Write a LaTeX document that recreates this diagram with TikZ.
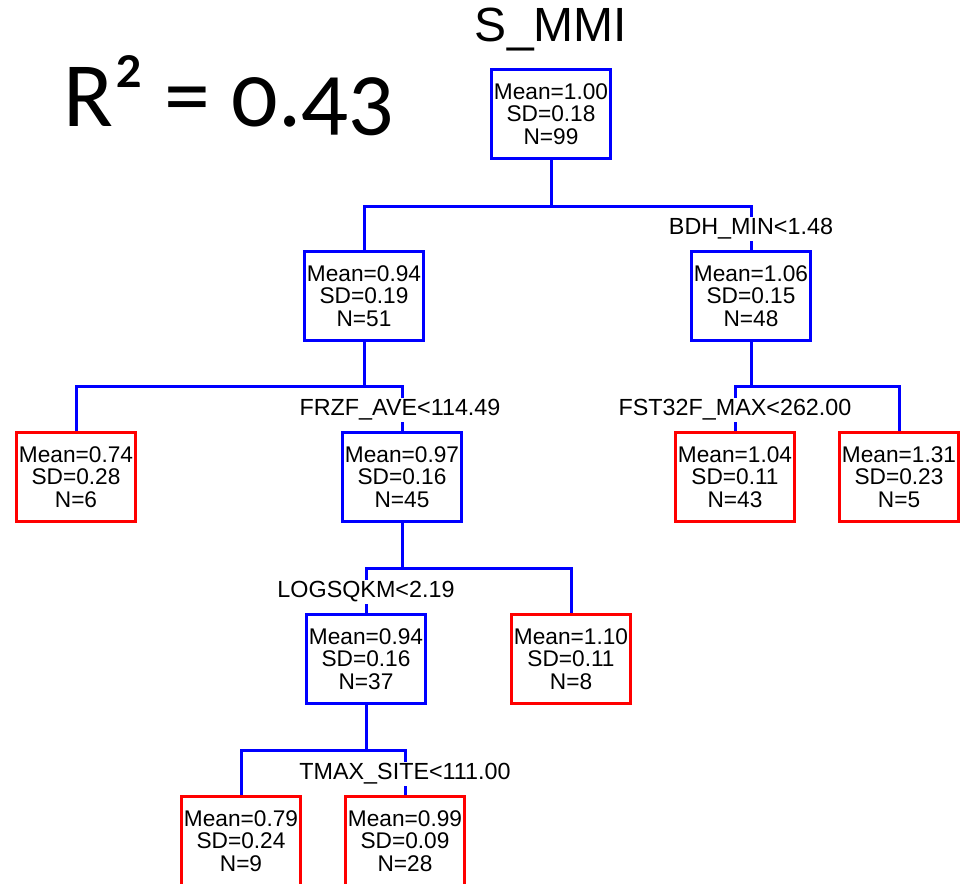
\documentclass[tikz,border=0pt]{standalone}
\usepackage{fontspec}
\setmainfont{Liberation Sans}
\newfontfamily\rsqfont[Numbers=OldStyle]{Carlito}
\usetikzlibrary{calc}

\definecolor{splitblue}{RGB}{0,0,255}
\definecolor{leafred}{RGB}{255,0,0}

\tikzset{
  treebox/.style={draw=splitblue, line width=2.25pt, rectangle, inner sep=0pt,
    minimum width=89.25pt, minimum height=66.75pt, align=center,
    font=\fontsize{17}{16.9}\selectfont},
  leafbox/.style={treebox, draw=leafred},
  branch/.style={draw=splitblue, line width=2.25pt},
  splitlabel/.style={fill=white, inner sep=1pt, font=\fontsize{17.5}{18}\selectfont},
}

\begin{document}
\begin{tikzpicture}[x=0.75pt, y=-0.75pt]
  \useasboundingbox (0,0) rectangle (967,883);
  \clip (0,0) rectangle (967,883);

  % headings
  \node[font=\fontsize{36}{36}\selectfont] (title) at (551,30) {S\_MMI};
  \node[font=\rsqfont\fontsize{69}{69}\selectfont, anchor=base west, inner sep=0pt] (rsq) at (63,126) {R² = 0.43};

  % boxes of the tree
  \node[treebox] (root) at (551,114) {Mean=1.00\\SD=0.18\\N=99};
  \node[treebox] (l)    at (364,296) {Mean=0.94\\SD=0.19\\N=51};
  \node[treebox] (r)    at (751,296) {Mean=1.06\\SD=0.15\\N=48};
  \node[leafbox] (ll)   at (76,477)  {Mean=0.74\\SD=0.28\\N=6};
  \node[treebox] (lr)   at (402,477) {Mean=0.97\\SD=0.16\\N=45};
  \node[leafbox] (rl)   at (735,477) {Mean=1.04\\SD=0.11\\N=43};
  \node[leafbox] (rr)   at (899,477) {Mean=1.31\\SD=0.23\\N=5};
  \node[treebox] (lrl)  at (366,659) {Mean=0.94\\SD=0.16\\N=37};
  \node[leafbox] (lrr)  at (571,659) {Mean=1.10\\SD=0.11\\N=8};
  \node[leafbox] (lrll) at (241,841) {Mean=0.79\\SD=0.24\\N=9};
  \node[leafbox] (lrlr) at (405,841) {Mean=0.99\\SD=0.09\\N=28};

  % split points below each parent
  \coordinate (s0) at ($(root.south)+(0,46)$);
  \coordinate (s1) at ($(l.south)+(0,44)$);
  \coordinate (s2) at ($(r.south)+(0,44)$);
  \coordinate (s3) at ($(lr.south)+(0,45)$);
  \coordinate (s4) at ($(lrl.south)+(0,45)$);

  % connectors
  \draw[branch] (root.south) -- (s0);
  \draw[branch] (l.north) |- (s0) -| (r.north);
  \draw[branch] (l.south) -- (s1);
  \draw[branch] (ll.north) |- (s1) -| (lr.north);
  \draw[branch] (r.south) -- (s2);
  \draw[branch] (rl.north) |- (s2) -| (rr.north);
  \draw[branch] (lr.south) -- (s3);
  \draw[branch] (lrl.north) |- (s3) -| (lrr.north);
  \draw[branch] (lrl.south) -- (s4);
  \draw[branch] (lrll.north) |- (s4) -| (lrlr.north);

  % split rules
  \node[splitlabel] (c0) at ($(r.north)+(0,-21)$)    {BDH\_MIN<1.48};
  \node[splitlabel] (c1) at ($(lr.north)+(-2,-21)$)  {FRZF\_AVE<114.49};
  \node[splitlabel] (c2) at ($(rl.north)+(0,-21)$)   {FST32F\_MAX<262.00};
  \node[splitlabel] (c3) at ($(lrl.north)+(0,-21)$)  {LOGSQKM<2.19};
  \node[splitlabel] (c4) at ($(lrlr.north)+(0,-21)$) {TMAX\_SITE<111.00};
\end{tikzpicture}
\end{document}
